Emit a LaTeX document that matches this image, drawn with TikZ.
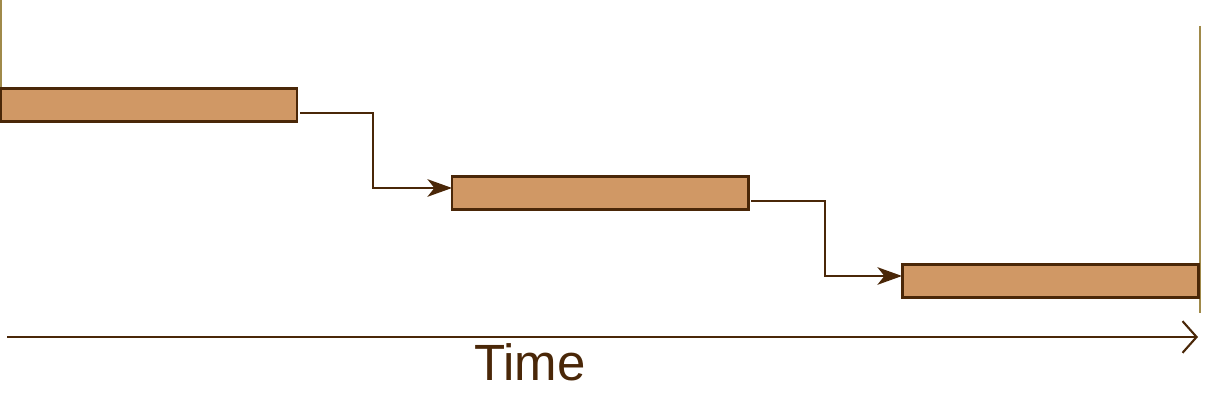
\documentclass[tikz,border=0pt]{standalone}
\usepackage{fontspec}
\setmainfont{Liberation Sans}
\usepackage{tikz,xcolor}
\usetikzlibrary{calc,arrows.meta}
\definecolor{barfill}{HTML}{D09865}
\definecolor{brownline}{HTML}{4A2708}
\definecolor{goldline}{HTML}{A08A4A}

\begin{document}
\begin{tikzpicture}[bar/.style={draw=brownline,fill=barfill,line width=0.85pt,inner sep=0pt,outer sep=0pt,minimum width=2.96cm,minimum height=0.33cm,anchor=north west},
link/.style={brownline,line width=0.6pt,-{Stealth[length=7pt,width=5pt,inset=2pt]}}]
\useasboundingbox (0,0) rectangle (12.12,4.19);

\draw[goldline,line width=0.8pt] (0.01,4.19) -- (0.01,2.96);
\draw[goldline,line width=0.8pt] (12.00,3.93) -- (12.00,1.06);

\node[bar] (task1) at (0.01,3.30) {};
\node[bar] (task2) at (4.52,2.42) {};
\node[bar] (task3) at (9.02,1.54) {};

\draw[link] ($(task1.east)+(0.03,-0.075)$) -- ++(0.73,0) |- ($(task2.west)+(0,0.055)$);
\draw[link] ($(task2.east)+(0.03,-0.075)$) -- ++(0.74,0) |- ($(task3.west)+(0,0.055)$);

\coordinate (t0) at (0.07,0.82); \coordinate (t1) at (11.98,0.82);
\draw[brownline,line width=0.6pt,-{Straight Barb[length=4pt,width=9pt]}] (t0) -- (t1);
\node[text=brownline,font=\fontsize{14.5}{17}\selectfont] (time) at (5.30,0.57) {Time};

\end{tikzpicture}
\end{document}
